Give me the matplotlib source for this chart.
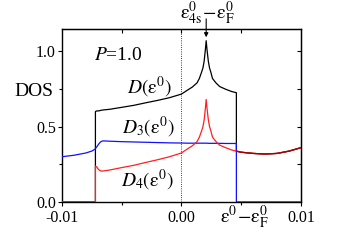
import matplotlib
matplotlib.use('Agg')
import matplotlib.pyplot as plt
import numpy as np

plt.rcParams['font.family'] = ['Liberation Serif', 'DejaVu Serif']
plt.rcParams['mathtext.fontset'] = 'stix'

## energies e0 - eF
x = [-0.01, -0.009, -0.008, -0.0075, -0.00721, -0.00721, -0.0071, -0.0070,
     -0.0069, -0.0068, -0.0067, -0.0066, -0.0065, -0.006, -0.005, -0.004,
     -0.003, -0.002, -0.001, 0.0, 0.0005, 0.0009, 0.0013, 0.0015, 0.0017,
     0.0018, 0.0019, 0.0020, 0.00207, 0.00214, 0.00225, 0.00235, 0.00245,
     0.0026, 0.0029, 0.0032, 0.0037, 0.0042, 0.0046, 0.0046, 0.005, 0.006,
     0.007, 0.008, 0.009, 0.01]

# D3 (blue)
d3 = [0.300, 0.310, 0.325, 0.338, 0.352, 0.355, 0.365, 0.377,
      0.388, 0.397, 0.402, 0.405, 0.405, 0.403, 0.400, 0.398,
      0.396, 0.394, 0.392, 0.391, 0.390, 0.390, 0.390, 0.390, 0.390,
      0.390, 0.390, 0.390, 0.390, 0.390, 0.389, 0.389, 0.389,
      0.389, 0.389, 0.389, 0.388, 0.388, 0.388, 0.0, 0.0, 0.0,
      0.0, 0.0, 0.0, 0.0]

# D4 (red)
d4 = [0.0, 0.0, 0.0, 0.0, 0.0, 0.238, 0.232, 0.220,
      0.212, 0.207, 0.205, 0.205, 0.206, 0.212, 0.228, 0.243,
      0.262, 0.280, 0.300, 0.325, 0.352, 0.372, 0.400, 0.430, 0.475,
      0.500, 0.545, 0.620, 0.680, 0.620, 0.545, 0.500, 0.475,
      0.430, 0.400, 0.377, 0.360, 0.345, 0.337, 0.337, 0.330, 0.322,
      0.318, 0.322, 0.337, 0.360]

# D total (black)
d = [0.0, 0.0, 0.0, 0.0, 0.0, 0.600, 0.604, 0.604,
     0.605, 0.607, 0.609, 0.610, 0.611, 0.615, 0.628, 0.641,
     0.658, 0.674, 0.692, 0.716, 0.742, 0.762, 0.790, 0.820, 0.865,
     0.890, 0.935, 1.010, 1.070, 1.010, 0.934, 0.889, 0.864,
     0.819, 0.789, 0.766, 0.748, 0.733, 0.725, 0.337, 0.330, 0.322,
     0.318, 0.322, 0.337, 0.360]

x_peak = 0.00207

fig = plt.figure(figsize=(3.49, 2.43), dpi=100)
ax = fig.add_axes([0.178, 0.169, 0.684, 0.713])

ax.axvline(0.0, color='k', lw=0.6, ls=':', zorder=1)
ax.plot(x, d, color='k', lw=0.9, zorder=2)
ax.plot(x, d3, color='#1010ff', lw=0.9, zorder=3)
ax.plot(x, d4, color='#ff2020', lw=0.9, zorder=4)
# overlap of D and D4 above the band edge
ax.plot(x[39:], d[39:], color='#a00000', lw=0.9, zorder=5)

ax.set_xlim(-0.01, 0.01)
ax.set_ylim(0, 1.15)

ax.set_xticks([-0.01, 0.0, 0.01])
ax.set_xticklabels(['-0.01', '0.00', '0.01'])
ax.set_xticks([-0.005, 0.005], minor=True)
ax.set_yticks([0.0, 0.5, 1.0])
ax.set_yticklabels(['0.0', '0.5', '1.0'])
ax.set_yticks([0.25, 0.75], minor=True)
ax.tick_params(which='both', direction='out', labelsize=11.5, width=0.8, pad=1.5)
ax.tick_params(axis='x', which='both', pad=3)
ax.tick_params(which='major', length=3)
ax.tick_params(which='minor', length=2.5)

top = ax.secondary_xaxis('top')
top.set_xticks([-0.005, 0.0, 0.005])
top.tick_params(direction='in', length=3, width=0.8, labeltop=False)
right = ax.secondary_yaxis('right')
right.set_yticks([0.25, 0.5, 0.75, 1.0])
right.tick_params(direction='in', length=3, width=0.8, labelright=False)
for s in ax.spines.values():
    s.set_linewidth(1.0)

## texts
ax.text(-0.0073, 0.945, r'$P$=1.0', fontsize=14)
ax.text(-0.0124, 0.70, 'DOS', fontsize=14, ha='center')
ax.text(-0.0046, 0.72, r'$D(\mathrm{ε}^0)$', fontsize=14)
ax.text(-0.0050, 0.455, r'$D_3(\mathrm{ε}^0)$', fontsize=14)
ax.text(-0.0051, 0.10, r'$D_4(\mathrm{ε}^0)$', fontsize=14)
ax.text(0.0053, -0.139, r'$\mathrm{ε}^0\!-\!\mathrm{ε}^0_\mathrm{F}$', fontsize=14,
        ha='center', clip_on=False)
ax.text(x_peak + 0.0001, 1.215, r'$\mathrm{ε}^0_{\mathrm{4s}}\!-\!\mathrm{ε}^0_\mathrm{F}$', fontsize=14,
        ha='center', clip_on=False)
ax.annotate('', xy=(x_peak, 1.093), xytext=(x_peak, 1.215),
            arrowprops=dict(arrowstyle='-|>', lw=0.8, color='k', mutation_scale=6,
                            shrinkA=0, shrinkB=0),
            annotation_clip=False)

fig.savefig('out.png', dpi=100)
